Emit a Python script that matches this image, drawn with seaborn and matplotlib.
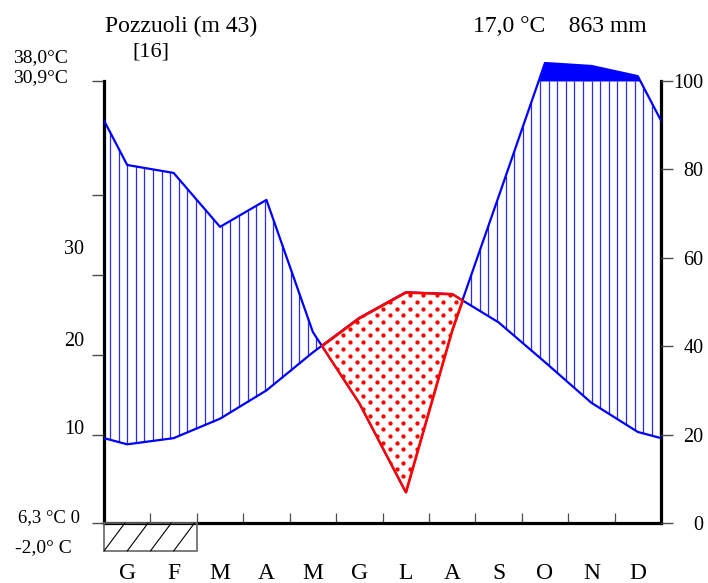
import numpy as np
import pandas as pd
import matplotlib
matplotlib.use("Agg")
import matplotlib.pyplot as plt
from matplotlib.patches import Rectangle
import seaborn as sns

# ---------------- data ----------------
months = ["G", "F", "M", "A", "M", "G", "L", "A", "S", "O", "N", "D"]
temp_c = [8.9, 9.6, 11.8, 15.0, 19.3, 23.2, 26.1, 25.9, 22.7, 18.2, 13.6, 10.3]
precip_mm = [81.0, 79.2, 67.0, 73.1, 43.2, 27.1, 7.0, 43.7, 73.8, 140.7, 134.0, 111.0]
station = "Pozzuoli (m 43)"
years = "[16]"
annual_temp = "17,0 °C"
annual_precip = "863 mm"
abs_max = "38,0°C"
mean_max_warm = "30,9°C"
mean_min_cold = "6,3 °C 0"
abs_min = "-2,0° C"
frost_months = [0, 1]          # G, F : absolute minimum below 0 °C
right_ticks = [0, 20, 40, 60, 80, 100]
left_labels = ["10", "20", "30"]

# ---------------- style ----------------
sns.set_theme(style="white")
plt.rcParams["font.family"] = ["Liberation Serif", "DejaVu Serif"]
plt.rcParams["text.color"] = "black"

W, H = 708, 583
PX = 4.42                       # pixels per mm of the precipitation scale
MPX = (661 - 104) / 12          # pixels per month
AX_L, AX_R, AX_B = 104, 661, 523
YTOP = 108

fig = plt.figure(figsize=(W / 100, H / 100), dpi=100)
ax = fig.add_axes([AX_L / W, 1 - AX_B / H, (AX_R - AX_L) / W, YTOP * PX / H])
ax.set_xlim(0, 12)
ax.set_ylim(0, YTOP)

# Walter-Lieth scaling: 10 °C = 20 mm, above 100 mm scale 1:10
t_plot = 2 * np.array(temp_c)
p = np.array(precip_mm)
p_plot = np.where(p <= 100, p, 100 + (p - 100) / 10)

x = np.concatenate([[0], np.arange(12) + 0.5, [12]])


def ext(v):
    e = (v[0] + v[-1]) / 2
    return np.concatenate([[e], v, [e]])


T = ext(t_plot)
P = ext(p_plot)
df = pd.DataFrame({"x": x, "T": T, "P": P})

# humid period: vertical hatching
xs = np.arange(0.13, 12, 0.1853)
ti = np.interp(xs, x, T)
pi = np.minimum(np.interp(xs, x, P), 100)
m = pi > ti
ax.vlines(xs[m], ti[m], pi[m], color="#2a2aff", lw=0.9, zorder=2)

# per-humid (>100 mm) solid
ax.fill_between(x, 100, P, where=P > 100, interpolate=True, color="blue", lw=0, zorder=2)

# curves
sns.lineplot(data=df, x="x", y="T", color="blue", lw=1.6, ax=ax, sort=False, zorder=3)
sns.lineplot(data=df, x="x", y="P", color="blue", lw=1.6, ax=ax, sort=False, zorder=3)

# arid period: red outline + red dot pattern clipped to it
arid = ax.fill_between(x, P, T, where=T > P, interpolate=True, facecolor="white",
                       edgecolor="red", lw=1.5, zorder=4)
row_h = 6.7 / PX
col_w = 13.3 / MPX
gy = np.arange(0, 100, row_h)
dx_list, dy_list = [], []
for i, yy in enumerate(gy):
    off = (col_w / 2) * (i % 2)
    gx = np.arange(off, 12, col_w)
    dx_list.append(gx)
    dy_list.append(np.full_like(gx, yy))
dots = ax.scatter(np.concatenate(dx_list), np.concatenate(dy_list), s=9.5, c="red",
                  marker="o", linewidths=0, zorder=5)
dots.set_clip_path(arid.get_paths()[0], ax.transData)
ax.fill_between(x, P, T, where=T > P, interpolate=True, facecolor="none",
                edgecolor="red", lw=1.5, zorder=6)

ax.set_xlabel("")
ax.set_ylabel("")

# frost box under the axis
box_h = 28 / PX
f0, f1 = min(frost_months), max(frost_months) + 1
ax.add_patch(Rectangle((f0, -box_h), f1 - f0, box_h, fill=False, edgecolor="0.4",
                       lw=1.2, clip_on=False, zorder=5))
for xb in np.arange(f0, f1, 0.5):
    ax.plot([xb, xb + 0.45], [-box_h, 0], color="black", lw=0.8, clip_on=False, zorder=5)

# spines
ax.spines["top"].set_visible(False)
for s in ["left", "right", "bottom"]:
    ax.spines[s].set_visible(True)
    ax.spines[s].set_linewidth(2.3)
    ax.spines[s].set_color("black")
ax.spines["left"].set_bounds(0, 100)
ax.spines["right"].set_bounds(0, 100)

# x ticks
ax.set_xticks(np.arange(1, 12))
ax.set_xticklabels([])
ax.set_xticks(np.arange(12) + 0.5, minor=True)
ax.set_xticklabels(months, minor=True)
ax.tick_params(axis="x", which="major", direction="in", length=7.2, width=0.9,
               color="0.3", bottom=True)
ax.tick_params(axis="x", which="minor", length=0, pad=29, labelsize=17,
               labelcolor="black", bottom=True)

# left (temperature) ticks
ax.set_yticks([0, 19.9, 38.0, 56.1, 74.2, 100])
ax.set_yticklabels([])
ax.tick_params(axis="y", which="major", direction="out", length=8.6, width=1.0,
               color="0.3", left=True, right=False)

# right (precipitation) axis
ax2 = ax.twinx()
ax2.set_ylim(0, YTOP)
for s in ax2.spines.values():
    s.set_visible(False)
ax2.set_yticks(right_ticks)
ax2.set_yticklabels([str(v) for v in right_ticks])
ax2.tick_params(axis="y", direction="out", length=8.6, width=1.0, color="0.3",
                right=True, left=False, pad=22, labelsize=14.5, labelcolor="black")
for lbl in ax2.get_yticklabels():
    lbl.set_ha("right")
    lbl.set_va("center_baseline")
ax2.grid(False)
ax.grid(False)


def ftext(px, py, s, **kw):
    kw.setdefault("fontsize", 14)
    fig.text(px / W, 1 - py / H, s, **kw)


ftext(105, 32, station, fontsize=17, va="baseline")
ftext(132, 57, years, fontsize=16, va="baseline")
ftext(473, 32, annual_temp + "    " + annual_precip, fontsize=17, va="baseline")
ftext(13, 62, abs_max, va="baseline")
ftext(13, 82, mean_max_warm, va="baseline")
ftext(80, 522, mean_min_cold, fontsize=13.5, ha="right", va="baseline")
ftext(15, 552, abs_min, va="baseline")
for lab, py in zip(left_labels, [430, 342, 250]):
    ftext(84, py, lab, fontsize=14.5, ha="right", va="center")

fig.savefig("out.png", dpi=100)
